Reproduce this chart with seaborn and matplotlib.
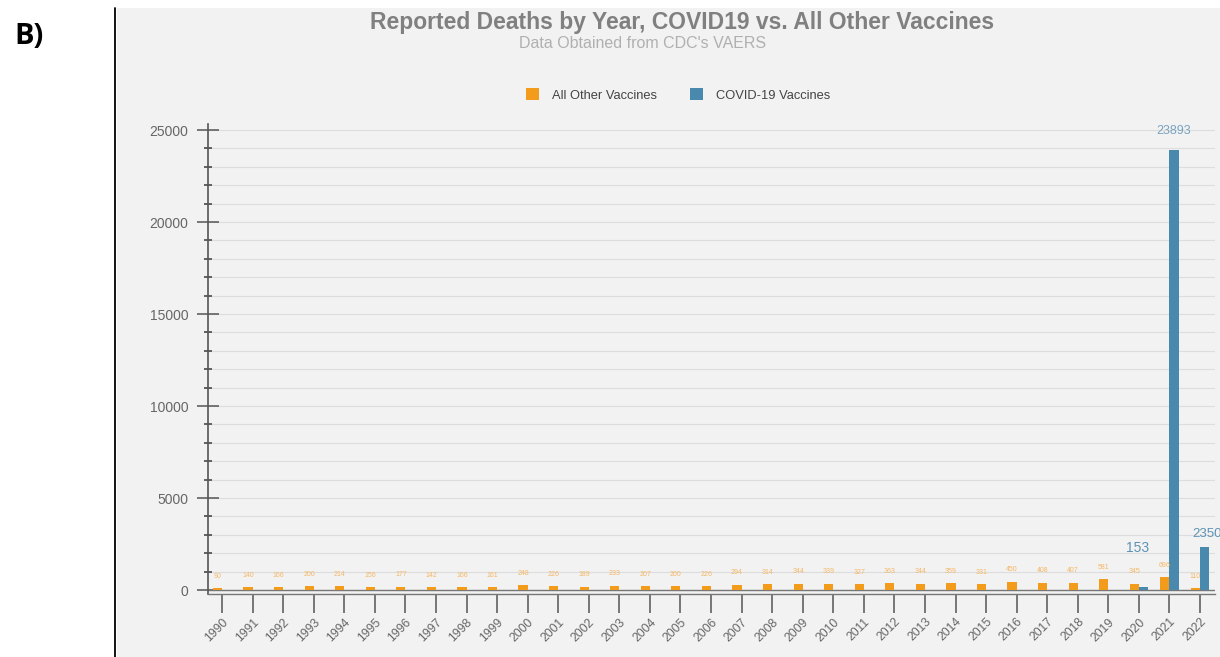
import matplotlib
matplotlib.use("Agg")
import matplotlib.pyplot as plt
from matplotlib.patches import Rectangle, Patch
from matplotlib.lines import Line2D
from matplotlib.ticker import MultipleLocator
import seaborn as sns
import pandas as pd

years = [str(y) for y in range(1990, 2023)]
other_vaccines = [90, 140, 166, 200, 214, 156, 177, 142, 166, 161, 248, 226, 189, 233,
                  207, 200, 226, 294, 314, 344, 339, 327, 363, 344, 359, 331, 450, 408,
                  407, 581, 345, 696, 110]
covid_years = ["2020", "2021", "2022"]
covid_vaccines = [153, 23893, 2350]
series_names = ["All Other Vaccines", "COVID-19 Vaccines"]

ORANGE = "#f39c1c"
BLUE = "#4a89ae"
BG = "#f2f2f2"

rows = [{"year": y, "deaths": v, "series": series_names[0]} for y, v in zip(years, other_vaccines)]
rows += [{"year": y, "deaths": v, "series": series_names[1]} for y, v in zip(covid_years, covid_vaccines)]
df = pd.DataFrame(rows)

sns.set_theme(style="white")
plt.rcParams["font.family"] = ["Liberation Sans", "DejaVu Sans"]

fig = plt.figure(figsize=(12.2, 6.57), dpi=100)
fig.patch.set_facecolor("white")
bg = Rectangle((117/1220, 0), 1 - 117/1220, (657-8)/657,
               transform=fig.transFigure, facecolor=BG, edgecolor="none", zorder=-10)
fig.add_artist(bg)
fig.add_artist(Line2D([115/1220, 115/1220], [0, (657-8)/657], transform=fig.transFigure,
                      color="black", lw=1.3, zorder=-5))
fig.text(14/1220, 1 - 36/657, "B)", fontsize=21, fontweight="bold", color="black",
         va="center", ha="left", family=["Open Sans", "DejaVu Sans"])

ax = fig.add_axes([208/1220, (657-593.7)/657, (1215-208)/1220, (593.7-124.5)/657])
ax.set_facecolor(BG)
ax.set_zorder(1)

sns.barplot(data=df, x="year", y="deaths", hue="series", order=years,
            hue_order=series_names, palette=[ORANGE, BLUE], width=0.6,
            dodge=True, ax=ax, legend=False, errorbar=None, saturation=1, zorder=3,
            edgecolor="none", linewidth=0)

ax.set_xlim(-0.458, 32.49)
ax.set_ylim(-200, 25300)
ax.yaxis.set_major_locator(MultipleLocator(5000))
ax.yaxis.set_minor_locator(MultipleLocator(1000))
ax.grid(True, which="both", axis="y", color="#dddddd", lw=0.8, zorder=0)
ax.set_axisbelow(True)

for s in ["top", "right"]:
    ax.spines[s].set_visible(False)
ax.spines["left"].set_color("#555555")
ax.spines["left"].set_linewidth(1.2)
ax.spines["bottom"].set_color("#777777")
ax.spines["bottom"].set_linewidth(1.0)
ax.axhline(0, color="#777777", lw=1.0, zorder=2)

ax.tick_params(axis="y", which="major", left=True, direction="inout", length=16, width=1.1,
               color="#555555", labelsize=10, labelcolor="#666666", pad=6)
ax.tick_params(axis="y", which="minor", left=True, direction="inout", length=6, width=1.3,
               color="#555555")
ax.tick_params(axis="x", bottom=True, direction="out", length=14, width=1.1, color="#555555",
               labelsize=8.8, labelcolor="#666666", pad=2)
plt.setp(ax.get_xticklabels(), rotation=45, ha="right", rotation_mode="anchor")
ax.set_xlabel("")
ax.set_ylabel("")

# value labels
orange_bars = ax.containers[0]
ax.bar_label(orange_bars, labels=[str(v) for v in other_vaccines], padding=6,
             fontsize=5, color="#f5b865")

blue_bars = ax.containers[1]
offsets = {"2020": (-4, 28), "2021": (0, 14), "2022": (2, 9)}
styles = {"2020": (10, "#5d92b5"), "2021": (9, "#7aa3c2"), "2022": (9.5, "#5d92b5")}
for bar, yr, val in zip(blue_bars, covid_years, covid_vaccines):
    xc = bar.get_x() + bar.get_width() / 2
    ax.annotate(str(val), (xc, bar.get_height()),
                xytext=offsets[yr], textcoords="offset points",
                ha="center", va="center", fontsize=styles[yr][0],
                color=styles[yr][1], annotation_clip=False)

fig.text(682/1220, 1 - 23/657, "Reported Deaths by Year, COVID19 vs. All Other Vaccines",
         ha="center", va="center", fontsize=16.5, fontweight="bold", color="#808080")
fig.text(643/1220, 1 - 44/657, "Data Obtained from CDC's VAERS",
         ha="center", va="center", fontsize=11.5, color="#b0b0b0")

handles = [Patch(facecolor=ORANGE, edgecolor="none"), Patch(facecolor=BLUE, edgecolor="none")]
fig.legend(handles, series_names, loc="center", bbox_to_anchor=(678/1220, 1 - 95/657),
           ncol=2, frameon=False, fontsize=9.3, handlelength=1.0, handleheight=1.0,
           columnspacing=2.6, handletextpad=1.0, labelcolor="#444444")

fig.savefig("out.png", dpi=100, facecolor="white")
